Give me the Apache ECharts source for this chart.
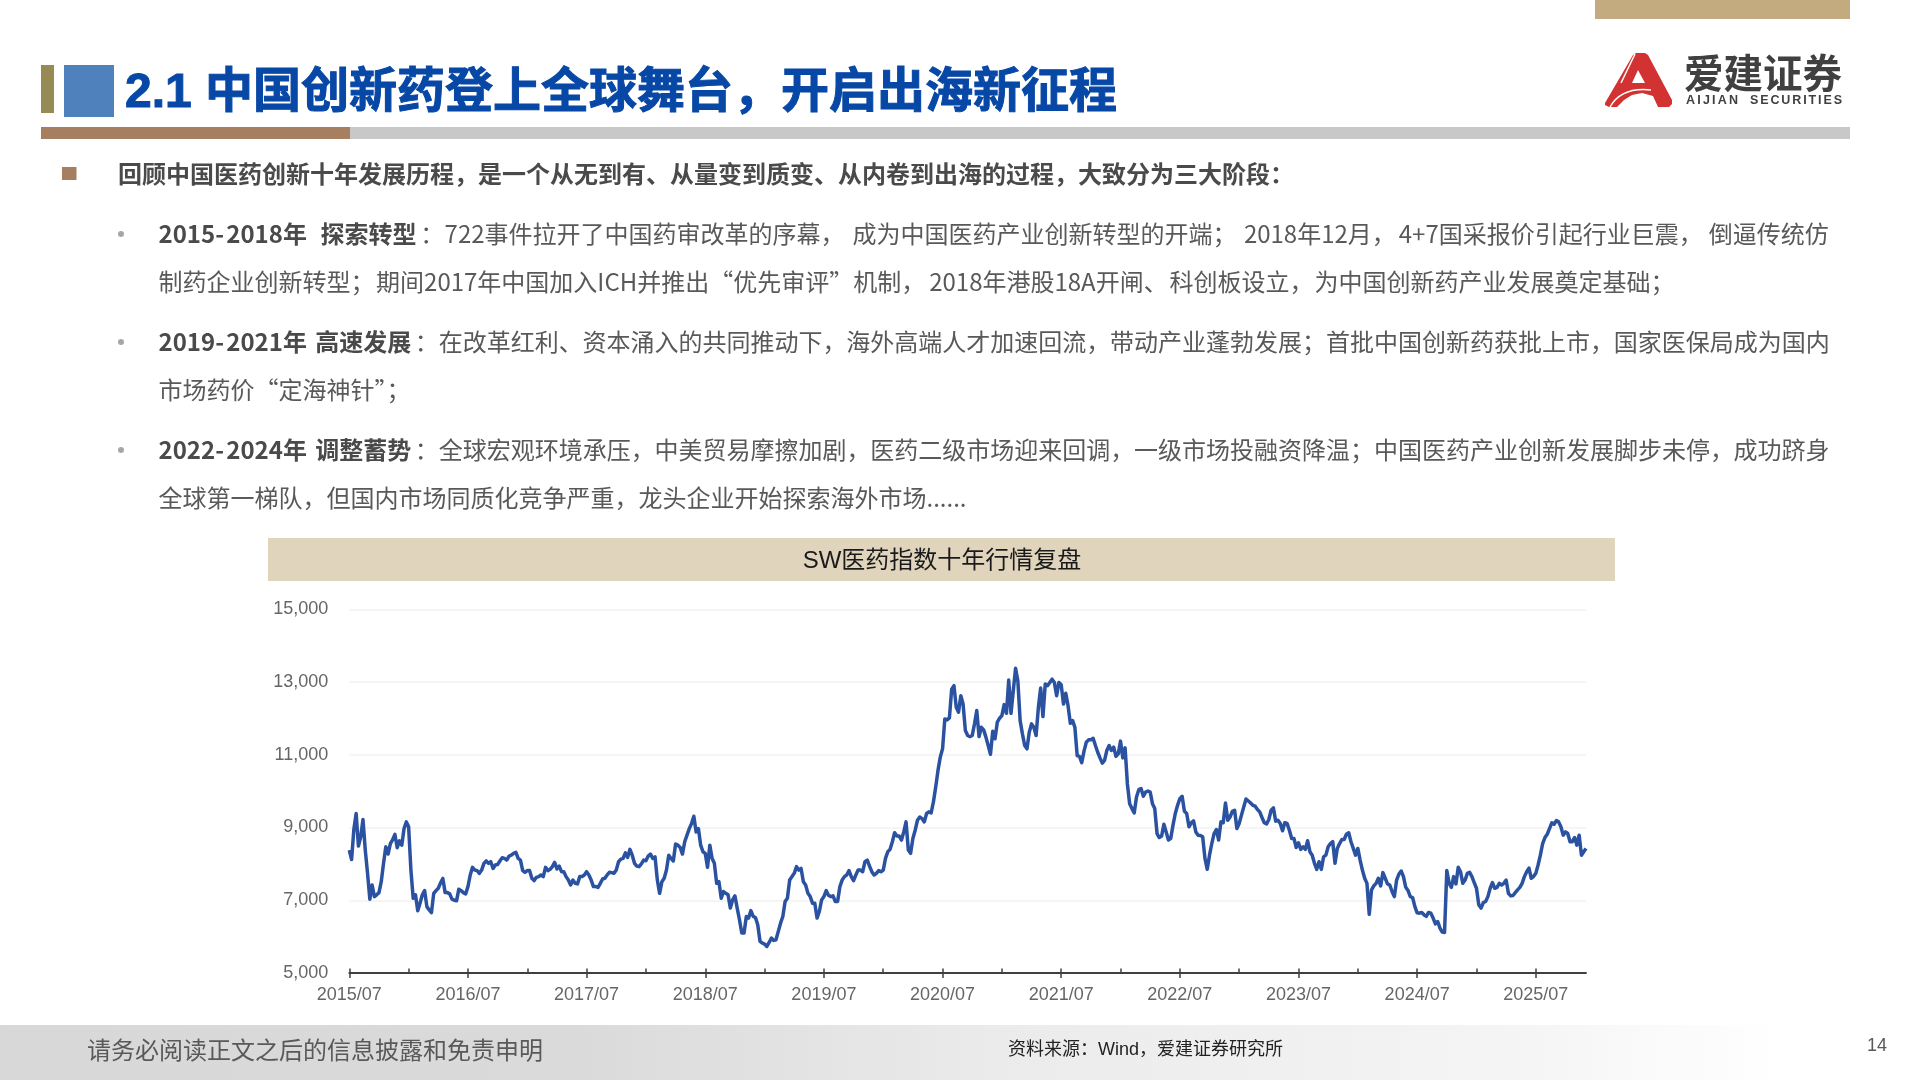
<!DOCTYPE html>
<html><head><meta charset="utf-8">
<style>html,body{margin:0;padding:0;background:#fff}#c{width:1920px;height:1080px}</style>
<script src="https://cdn.jsdelivr.net/npm/echarts@6/dist/echarts.min.js"></script>
</head><body><div id="c"></div>
<script>
const tickLabels=['2015/07','2016/07','2017/07','2018/07','2019/07','2020/07','2021/07','2022/07','2023/07','2024/07','2025/07'];
const y2015=[8380,8120,8950,9385,8490,8745,9220,8380,7740,7030,7420,7100,7150,7210,7510,8015,8470,8270,8560,8670,8810,8445,8635,8515,8970,9155,9020,7830,7055,7150,6710,6920,7150,7265,6825,6735,6660,7190,7265,7330,7480,7600,7210,7210,7175,7030,7000,6985,7305,7265,7210,7175];
const y2016=[7375,7695,7905,7830,7815,7740,7830,8015,8080,8015,8060,7875,7970,7985,8080,8170,8150,8105,8215,8240,8290,8315,8150,8105,7815,7770,7815,7815,7605,7540,7630,7650,7695,7650,7905,7815,7850,7925,8040,7860,7940,7785,7785,7650,7555,7420,7555,7465,7450,7650,7650,7695];
const y2017=[7785,7695,7555,7375,7375,7355,7465,7585,7605,7695,7770,7760,7740,7830,8060,8130,8150,8305,8180,8400,8240,8015,7940,7925,8000,8105,8085,8215,8270,8150,8195,7555,7190,7510,7605,7830,8240,8150,8080,8545,8515,8450,8270,8610,8790,8970,9110,9310,8880,8970,8515,8335];
const y2018=[8290,7905,8515,8150,8015,7465,7510,7055,7240,7190,7150,6785,7010,7120,6785,6465,6100,6100,6555,6510,6715,6555,6525,6325,5870,5825,5795,5730,5840,5960,5895,5915,6140,6370,6555,6965,7055,7555,7650,7740,7925,7830,7875,7510,7420,7190,7100,6920,6920,6510,6690,7010];
const y2019=[7100,7265,7140,7100,7120,6965,6965,7375,7555,7650,7695,7815,7650,7540,7695,7830,7830,7785,8060,8105,7940,7785,7695,7740,7815,7785,7830,8150,8335,8400,8610,8855,8765,8765,8655,8880,9155,8380,8290,8700,8925,9200,9290,9245,9155,9385,9430,9400,9705,10115,10570,10935];
const y2020=[11165,11985,11960,12015,12805,12900,12305,12170,12625,12395,11665,11530,11500,11530,11850,12215,11500,11755,11685,11485,11255,11010,11650,11440,11895,12005,12075,12380,12140,13055,12140,12760,13380,13035,11940,11575,11255,11165,11620,11850,11755,11530,12305,12835,12050,12945,12900,12990,13080,12990,12625,12990];
const y2021=[12925,12395,12690,12350,11865,11940,11755,10980,10955,10780,11100,11345,11410,11410,11455,11255,11070,10915,10770,10845,11120,11255,11120,11210,10955,11025,11375,10915,11190,10205,9655,9520,9400,9840,10040,10070,9860,9975,10005,9975,9655,9520,8835,8725,8765,9090,8880,8655,8700,9065,9385,9610];
const y2022=[9795,9860,9445,9385,9020,9130,9185,8880,8790,8780,8745,8150,7850,8240,8560,8835,8945,8655,9155,9130,9675,9200,9290,9445,9475,8970,9110,9340,9565,9785,9730,9675,9610,9585,9495,9430,9275,9130,9100,9220,9475,9540,9175,9200,9110,8910,9130,9110,8925,8700,8700,8450];
const y2023=[8580,8400,8470,8400,8635,8335,8240,8015,7850,8060,7850,8195,8240,8470,8560,8610,8015,8425,8560,8670,8670,8815,8855,8610,8425,8240,8425,8105,7830,7605,7465,6615,7285,7395,7465,7605,7395,7760,7605,7450,7420,7240,7100,7555,7720,7805,7650,7355,7265,7100,7075,6825];
const y2024=[6655,6645,6665,6600,6555,6665,6645,6510,6350,6415,6235,6125,6115,7815,7465,7355,7650,7450,7905,7785,7465,7555,7740,7770,7650,7485,7330,6875,6785,6935,6965,7100,7330,7485,7330,7355,7465,7420,7465,7555,7190,7120,7130,7210,7285,7355,7465,7650,7785,7885,7605,7650];
const y2025=[7740,7970,8240,8560,8725,8815,8970,9130,9090,9190,9155,9020,8790,8880,8835,8610,8610,8725,8515,8790,8240,8335,8425];
const swPharmaIndex=[].concat(y2015,y2016,y2017,y2018,y2019,y2020,y2021,y2022,y2023,y2024,y2025);
const categories=swPharmaIndex.map((_,i)=>i%52===0?tickLabels[i/52]:'w'+i);

const cjk='"Noto Sans CJK SC",sans-serif';
const latin='"Liberation Sans","Noto Sans CJK SC",sans-serif';
const rect=(x,y,w,h,fill)=>({type:'rect',silent:true,shape:{x,y,width:w,height:h},style:{fill}});
const text=(x,y,t,font,fill,extra)=>({type:'text',silent:true,style:Object.assign({x,y,text:t,font,fill,verticalAlign:'middle'},extra||{})});
const bodyFont='24px '+cjk, boldFont='bold 24px '+cjk;
const boldFill='#4a4a4a', bodyFill='#595959';
const mctx=document.createElement('canvas').getContext('2d');
const measure=(s,f)=>{mctx.font=f;return mctx.measureText(s).width;};
// Lay one body line out in pieces, spreading the reference's justified slack across the gaps.
function bodyLine(y,boldParts,regular,boldExtra,regExtra){
 const out=[];let x0=158.5;
 const bw=boldParts.reduce((a,s)=>a+measure(s,boldFont),0);
 let acc=0;
 boldParts.forEach(s=>{out.push(text(x0+acc*(bw?(bw+boldExtra)/bw:1),y,s,boldFont,boldFill));acc+=measure(s,boldFont);});
 x0+=bw+(bw?boldExtra:0);
 const parts=regular.split(/(?<=[，；、：])/);
 const rw=measure(regular,bodyFont);acc=0;
 parts.forEach(s=>{out.push(text(x0+acc*(rw+regExtra)/rw,y,s,bodyFont,bodyFill));acc+=measure(s,bodyFont);});
 return out;
}
const dot=y=>({type:'circle',silent:true,shape:{cx:121,cy:y,r:3},style:{fill:'#a6a6a6'}});
function spreadWord(word,x1,x2,y,font,fill){
 const out=[];const nat=[...word].reduce((a,c)=>a+measure(c,font),0);
 const gap=(x2-x1-nat)/(word.length-1);let x=x1;
 [...word].forEach(c=>{out.push(text(x,y,c,font,fill));x+=measure(c,font)+gap;});
 return out;
}
const logoSub='bold 12.5px "Liberation Sans"';

const graphics=[
 rect(1595,0,255,19,'#c4ab7f'),
 rect(41,65,13,48,'#968a55'),
 rect(64,65,50,52,'#4f81bd'),
 text(125,93.5,'2.1 中国创新药登上全球舞台，开启出海新征程','bold 48px '+latin,'#0747a6',{stroke:'#0747a6',lineWidth:1}),
 rect(41,127,1809,12,'#c8c8c8'),
 rect(41,127,309,12,'#a67f60'),
 // logo
 {type:'polygon',silent:true,shape:{points:[[1605,103],[1633,55],[1636,53],[1645,53],[1648,55],[1672,100],[1672,104],[1669,107],[1658,107],[1653,96],[1642,93],[1632,95],[1624,100],[1617,107],[1609,107],[1605,105]]},style:{fill:'#d23232'}},
 {type:'polygon',silent:true,shape:{points:[[1638,70],[1632,83],[1645,83]]},style:{fill:'#fff'}},
 {type:'line',silent:true,shape:{x1:1635,y1:54,x2:1621,y2:83},style:{stroke:'#fff',lineWidth:1.5}},
 {type:'bezierCurve',silent:true,shape:{x1:1610,y1:107,cpx1:1618,cpy1:93,cpx2:1632,cpy2:88,x2:1651,y2:90},style:{stroke:'#fff',lineWidth:1.5,fill:'none'}},
 text(1684,72.5,'爱建证券','bold 39.5px '+cjk,'#404040'),
 ...spreadWord('AIJIAN',1686,1738,100.5,logoSub,'#404040'),
 ...spreadWord('SECURITIES',1750,1842,100.5,logoSub,'#404040'),
 // body
 rect(62,167,14.5,13,'#a67f60'),
 text(118,173.5,'回顾中国医药创新十年发展历程，是一个从无到有、从量变到质变、从内卷到出海的过程，大致分为三大阶段：',boldFont,boldFill),
 dot(234),
 ...bodyLine(234,['2015-','2018年','  探索转型'],'：722事件拉开了中国药审改革的序幕，成为中国医药产业创新转型的开端；2018年12月，4+7国采报价引起行业巨震，倒逼传统仿',8.6,27),
 ...bodyLine(282,[],'制药企业创新转型；期间2017年中国加入ICH并推出“优先审评”机制，2018年港股18A开闸、科创板设立，为中国创新药产业发展奠定基础；',0,11),
 dot(342),
 ...bodyLine(342,['2019-','2021年',' 高速发展'],'：在改革红利、资本涌入的共同推动下，海外高端人才加速回流，带动产业蓬勃发展；首批中国创新药获批上市，国家医保局成为国内',8.6,-1.2),
 ...bodyLine(390,[],'市场药价“定海神针”；',0,10),
 dot(450),
 ...bodyLine(450,['2022-','2024年',' 调整蓄势'],'：全球宏观环境承压，中美贸易摩擦加剧，医药二级市场迎来回调，一级市场投融资降温；中国医药产业创新发展脚步未停，成功跻身',8.6,-1.2),
 ...bodyLine(498,[],'全球第一梯队，但国内市场同质化竞争严重，龙头企业开始探索海外市场......',0,0),
 // chart title
 rect(268,538,1347,43,'#e0d5bc'),
 text(942,561,'SW医药指数十年行情复盘','24px '+latin,'#1a1a1a',{align:'center'}),
 // footer
 {type:'rect',silent:true,z:-1,shape:{x:0,y:1025,width:1920,height:55},style:{fill:new echarts.graphic.LinearGradient(0,0,1,0,[{offset:0,color:'#d8d8d8'},{offset:0.3,color:'#dadada'},{offset:0.52,color:'#ebebeb'},{offset:0.78,color:'#f4f4f4'},{offset:0.93,color:'#ffffff'}])}},
 text(87,1050,'请务必阅读正文之后的信息披露和免责申明','24px '+cjk,'#595959'),
 text(1008,1050,'资料来源：Wind，爱建证券研究所','18px '+latin,'#222222'),
 text(1867,1046,'14','18px "Liberation Sans"','#595959')
];

const chart=echarts.init(document.getElementById('c'),null,{width:1920,height:1080,renderer:'canvas'});
chart.setOption({
 animation:false,
 backgroundColor:'#fff',
 graphic:{elements:graphics},
 grid:{left:349.3,right:334,top:609.3,bottom:107,containLabel:false},
 xAxis:[
  {type:'category',data:categories,boundaryGap:false,position:'bottom',
   axisLine:{onZero:false,lineStyle:{color:'#404040',width:1.8}},
   axisTick:{show:true,length:5,interval:i=>i%52===0,lineStyle:{color:'#404040',width:1.5}},
   axisLabel:{show:true,interval:i=>i%52===0,formatter:v=>tickLabels.includes(v)?v:'',margin:13,fontSize:18,fontFamily:'Liberation Sans',color:'#666666',hideOverlap:false},
   splitLine:{show:false}},
  {type:'category',data:categories,boundaryGap:false,position:'bottom',
   axisLine:{onZero:false,show:false},
   axisTick:{show:true,inside:true,length:4.5,interval:i=>i%26===0,lineStyle:{color:'#404040',width:1.5}},
   axisLabel:{show:false},splitLine:{show:false}}
 ],
 yAxis:{type:'value',min:5000,max:15000,interval:2000,
  axisLine:{show:false},axisTick:{show:false},
  axisLabel:{margin:21,fontSize:18,fontFamily:'Liberation Sans',color:'#666666',padding:[2,0,0,0],formatter:v=>v.toLocaleString('en-US')},
  splitLine:{show:true,lineStyle:{color:'#f2f2f2',width:1.5}}},
 series:[{name:'SW医药指数',type:'line',data:swPharmaIndex,showSymbol:false,symbol:'none',smooth:false,
  lineStyle:{color:'#2a52a0',width:3.5,join:'round'},emphasis:{disabled:true},z:5}]
});
</script></body></html>
